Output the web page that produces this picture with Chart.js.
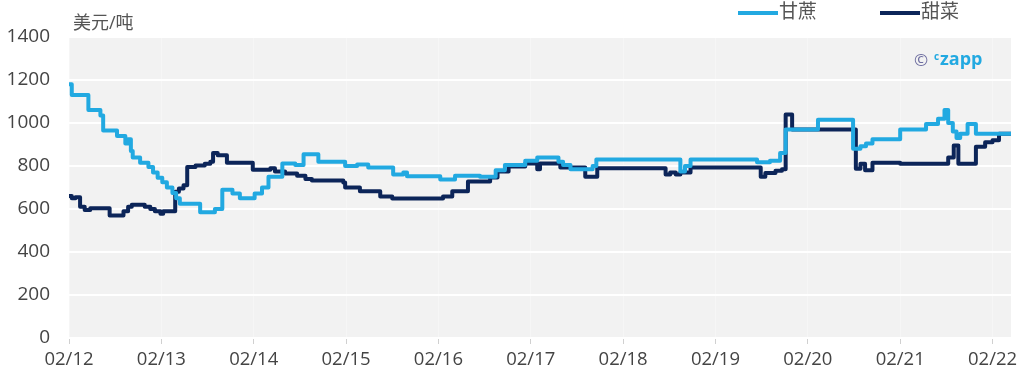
<!DOCTYPE html>
<html>
<head>
<meta charset="utf-8">
<script src="https://cdn.jsdelivr.net/npm/chart.js@4.4.0/dist/chart.umd.min.js"></script>
<style>
html,body{margin:0;padding:0;background:#fff;}
#wrap{width:1023px;height:373px;position:relative;}
</style>
</head>
<body>
<div id="wrap"><canvas id="c" width="1023" height="373"></canvas></div>
<script>
// ---- data (x in years; 2012.00 = Feb 2012) ----
const seriesNames = ["甘蔗", "甜菜"];
const unitLabel = "美元/吨";
const yTicks = [0, 200, 400, 600, 800, 1000, 1200, 1400];
const xTickYears = [2012, 2013, 2014, 2015, 2016, 2017, 2018, 2019, 2020, 2021, 2022];

const caneX = [0.00,0.03,0.21,0.34,0.37,0.52,0.61,0.64,0.67,0.69,0.77,0.86,0.91,0.96,1.01,1.06,1.12,1.16,1.20,1.42,1.58,1.66,1.77,1.85,2.01,2.09,2.16,2.31,2.45,2.54,2.70,2.99,3.12,3.24,3.51,3.62,3.66,4.02,4.18,4.45,4.62,4.72,4.94,5.07,5.30,5.35,5.43,5.67,5.71,6.62,6.67,6.73,7.45,7.59,7.70,7.76,8.11,8.49,8.57,8.63,8.70,9.00,9.28,9.41,9.48,9.52,9.57,9.61,9.65,9.73,9.82,10.22];
const caneY = [1180,1130,1060,1035,965,940,905,925,870,840,815,795,770,745,725,700,675,650,625,585,600,690,672,650,672,700,750,812,805,855,820,800,807,793,760,770,752,737,755,750,780,805,825,840,820,805,785,800,830,775,800,830,818,825,860,970,1015,880,892,905,925,970,995,1020,1060,1000,960,930,950,995,950,950];

const beetX = [0.00,0.03,0.07,0.12,0.17,0.23,0.44,0.59,0.64,0.68,0.82,0.88,0.93,0.99,1.02,1.15,1.19,1.24,1.28,1.37,1.47,1.53,1.56,1.61,1.71,1.99,2.18,2.23,2.34,2.47,2.56,2.63,2.97,2.99,3.15,3.37,3.50,4.05,4.15,4.32,4.56,4.64,4.76,4.94,5.07,5.10,5.32,5.59,5.72,6.46,6.51,6.57,6.62,6.73,7.49,7.54,7.65,7.72,7.76,7.83,8.52,8.57,8.62,8.70,9.00,9.52,9.58,9.63,9.82,9.92,10.00,10.07,10.22];
const beetY = [660,650,655,610,595,603,570,590,610,620,610,600,590,578,590,680,695,710,795,802,810,820,860,850,815,783,790,775,765,755,740,733,723,700,683,658,649,658,683,728,747,775,798,812,785,812,793,750,790,760,770,760,770,793,750,768,778,785,1040,970,787,810,780,815,810,840,895,810,890,910,920,950,950];

const baseYear = 2012;
const colors = ["#22a9e1", "#0c2559"];
const FONT = '"Open Sans", "Noto Sans CJK SC", sans-serif';

function pts(xs, ys){ return xs.map((x,i)=>({x: baseYear + x, y: ys[i]})); }

const bgPlugin = {
  id: 'bg',
  beforeDraw(chart){
    const {ctx, chartArea:a} = chart;
    ctx.save();
    ctx.fillStyle = '#f2f2f2';
    ctx.fillRect(a.left, a.top, a.right - a.left, a.bottom - a.top);
    ctx.restore();
  },
  afterDraw(chart){
    const {ctx, chartArea:a} = chart;
    ctx.save();
    // unit label
    ctx.font = '18px ' + FONT;
    ctx.fillStyle = '#555';
    ctx.textBaseline = 'middle';
    ctx.textAlign = 'left';
    ctx.fillText(unitLabel, a.left + 4, 24);
    // legend
    const items = [{x: 738}, {x: 880}];
    items.forEach((it, i) => {
      ctx.strokeStyle = colors[i];
      ctx.lineWidth = 4;
      ctx.beginPath();
      ctx.moveTo(it.x, 13);
      ctx.lineTo(it.x + 40, 13);
      ctx.stroke();
      ctx.font = '19px ' + FONT;
      ctx.fillStyle = '#555';
      ctx.fillText(seriesNames[i], it.x + 41, 13);
    });
    // logo
    ctx.font = '17px ' + FONT;
    ctx.fillStyle = '#6e6ea0';
    ctx.fillText('©', 914, 61);
    ctx.font = 'bold 10px ' + FONT;
    ctx.fillStyle = '#22a9e1';
    ctx.fillText('c', 934, 57);
    ctx.font = 'bold 18px ' + FONT;
    ctx.fillText('zapp', 940, 60);
    ctx.restore();
  }
};

new Chart(document.getElementById('c'), {
  type: 'line',
  data: {
    datasets: [
      { label: seriesNames[0], data: pts(caneX, caneY), borderColor: colors[0], backgroundColor: colors[0], borderWidth: 4, borderJoinStyle: 'round', borderCapStyle: 'round', pointRadius: 0, stepped: true, fill: false },
      { label: seriesNames[1], data: pts(beetX, beetY), borderColor: colors[1], backgroundColor: colors[1], borderWidth: 4, borderJoinStyle: 'round', borderCapStyle: 'round', pointRadius: 0, stepped: true, fill: false }
    ]
  },
  options: {
    responsive: false,
    animation: false,
    layout: { padding: { top: 37, right: 12, left: 0, bottom: 0 } },
    plugins: { legend: { display: false }, tooltip: { enabled: false }, title: { display: false } },
    scales: {
      x: {
        type: 'linear',
        min: baseYear,
        max: baseYear + 10.2,
        afterFit(s){ s.height = 35; },
        afterBuildTicks(s){ s.ticks = xTickYears.map(v => ({value: v})); },
        border: { display: false },
        grid: { color: 'rgba(255,255,255,0.35)', lineWidth: 1, tickColor: '#d0d0d0', tickLength: 6, drawTicks: true },
        ticks: {
          autoSkip: false, maxRotation: 0, padding: 5,
          color: '#444', font: { family: FONT, size: 18.5 },
          callback: v => '02/' + String(v).slice(2)
        }
      },
      y: {
        min: 0, max: 1400,
        afterFit(s){ s.width = 69; },
        afterBuildTicks(s){ s.ticks = yTicks.map(v => ({value: v})); },
        border: { display: false },
        grid: { color: '#ffffff', lineWidth: 2, drawTicks: false },
        ticks: { padding: 19, color: '#444', font: { family: FONT, size: 19 }, callback: v => String(v) }
      }
    }
  },
  plugins: [bgPlugin]
});
</script>
</body>
</html>
